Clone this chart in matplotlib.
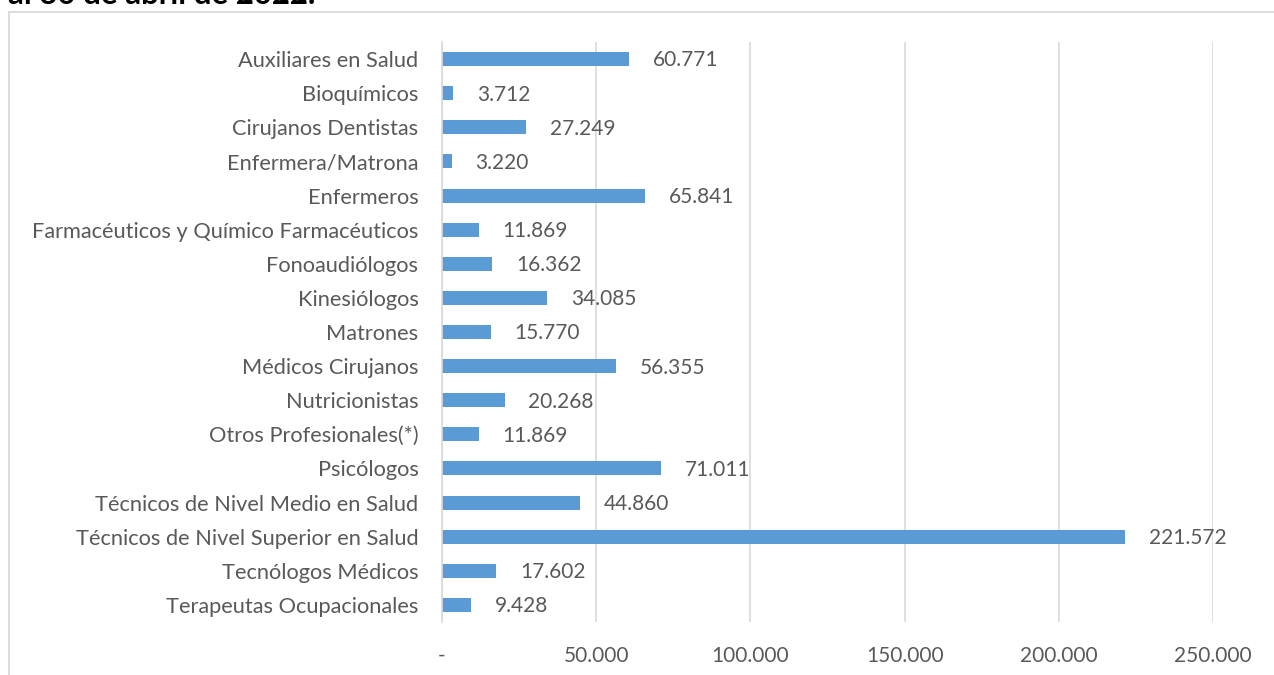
import matplotlib.pyplot as plt
from matplotlib.lines import Line2D
from matplotlib.ticker import FuncFormatter

categories = [
    "Auxiliares en Salud", "Bioquímicos", "Cirujanos Dentistas", "Enfermera/Matrona",
    "Enfermeros", "Farmacéuticos y Químico Farmacéuticos", "Fonoaudiólogos",
    "Kinesiólogos", "Matrones", "Médicos Cirujanos", "Nutricionistas",
    "Otros Profesionales(*)", "Psicólogos", "Técnicos de Nivel Medio en Salud",
    "Técnicos de Nivel Superior en Salud", "Tecnólogos Médicos", "Terapeutas Ocupacionales",
]
values = [60771, 3712, 27249, 3220, 65841, 11869, 16362, 34085, 15770, 56355,
          20268, 11869, 71011, 44860, 221572, 17602, 9428]
xticks = [0, 50000, 100000, 150000, 200000, 250000]

W, H = 1274, 675
bar_clr = "#5b9bd5"
txt_clr = "#595959"
grid_clr = "#d9d9d9"

plt.rcParams['font.family'] = ['Lato', 'DejaVu Sans']
fs = 15

fig = plt.figure(figsize=(W / 100, H / 100), dpi=100)
# axes in pixel coordinates: x 442..1213, y 42..622
ax = fig.add_axes([442 / W, 1 - 622 / H, (1213 - 442) / W, (622 - 42) / H])

def fmt(v):
    return f"{v:,.0f}".replace(",", ".")

ypos = list(range(len(categories)))
ax.barh(ypos, values, height=0.41, color=bar_clr)
for y, v in zip(ypos, values):
    ax.annotate(fmt(v), (v, y), xytext=(17, -1), textcoords="offset points",
                va="center", ha="left", fontsize=fs, color=txt_clr)

ax.set_ylim(len(categories) - 0.5, -0.5)
ax.set_xlim(0, 250000)
ax.set_yticks(ypos)
ax.set_yticklabels(categories, fontsize=15.7, color=txt_clr)
ax.set_xticks(xticks)
ax.xaxis.set_major_formatter(FuncFormatter(lambda v, p: "-" if v == 0 else fmt(v)))
ax.tick_params(axis="x", labelsize=fs, labelcolor=txt_clr, length=0, pad=17)
ax.tick_params(axis="y", length=0, pad=17)
ax.grid(axis="x", color=grid_clr, linewidth=1.2)
ax.set_axisbelow(True)
for s in ["top", "right", "bottom"]:
    ax.spines[s].set_visible(False)
ax.spines["left"].set_color(grid_clr)
ax.spines["left"].set_linewidth(1.2)

# outer chart frame (cut off at right and bottom)
fig.add_artist(Line2D([9 / W, 9 / W], [0, 1 - 12 / H], transform=fig.transFigure,
                      color="#d9d9d9", linewidth=1.3))
fig.add_artist(Line2D([9 / W, 1], [1 - 12 / H, 1 - 12 / H], transform=fig.transFigure,
                      color="#d9d9d9", linewidth=1.3))

# title, cut at the top as in the source
fig.text(8 / W, 1 - 4 / H, "al 30 de abril de 2022.", fontsize=22.4, fontweight="bold",
         color="black", ha="left", va="baseline")

fig.savefig("out.png", dpi=100)
